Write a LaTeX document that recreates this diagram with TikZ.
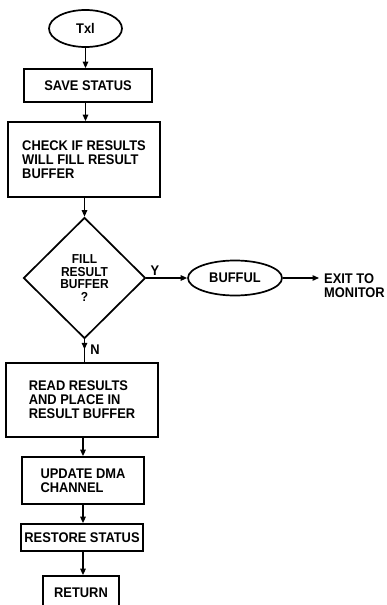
\documentclass[tikz,border=0pt]{standalone}
\usepackage{fontspec}
\setmainfont{Liberation Sans}[FakeStretch=0.92]
\usetikzlibrary{shapes.geometric,arrows.meta}
\begin{document}
\begin{tikzpicture}[x=1pt,y=-1pt,
  every node/.style={font=\fontsize{14}{14}\selectfont\bfseries, align=left, inner sep=0pt},
  box/.style={draw, rectangle, line width=1.7pt},
  oval/.style={draw, ellipse, line width=1.7pt},
  arr/.style={-{Triangle[length=6.5pt,width=5.5pt]}, line width=1.3pt},
  plain/.style={line width=1.3pt}]
\useasboundingbox (0,0) rectangle (387,605);
\node[oval, minimum width=73pt, minimum height=37pt] (txl) at (85.5,28.5) {Txl};
\node[box, minimum width=128pt, minimum height=33pt] (save) at (88,85.5) {SAVE STATUS};
\node[box, minimum width=152pt, minimum height=75pt] (check) at (84,159.5) {CHECK IF RESULTS\\WILL FILL RESULT\\BUFFER};
\node[diamond, draw, line width=1.7pt, minimum width=122pt, minimum height=121pt, align=center,
      font=\fontsize{13}{12.6}\selectfont\bfseries] (dia) at (84.5,278) {FILL\\RESULT\\BUFFER\\?};
\node[oval, minimum width=94pt, minimum height=35pt] (buf) at (235,278) {BUFFUL};
\node[anchor=west] (exit) at (324,285.5) {EXIT TO\\MONITOR};
\coordinate (exitin) at (319,278);
\node (ylab) at (155,271) {Y};
\node (nlab) at (95,350) {N};
\node[box, minimum width=152pt, minimum height=74pt] (read) at (82,400) {READ RESULTS\\AND PLACE IN\\RESULT BUFFER};
\node[box, minimum width=122pt, minimum height=47pt] (upd) at (83,480.5) {UPDATE DMA\\CHANNEL};
\node[box, minimum width=122pt, minimum height=27pt] (rest) at (82,537.5) {RESTORE STATUS};
\node[box, minimum width=76pt, minimum height=34pt] (ret) at (81,593) {RETURN};

\draw[arr] (txl.south) -- (txl.south |- save.north);
\draw[arr] (save.south -| txl.south) -- (txl.south |- check.north);
\draw[arr] (check.south -| dia.north) -- (dia.north);
\draw[arr] (dia.east) -- (buf.west);
\draw[arr] (buf.east) -- (exitin);
\draw[plain] (dia.south) -- (dia.south |- read.north);
\draw[arr] (dia.south) -- ++(0,10);
\draw[arr] (read.south -| upd.north) -- (upd.north);
\draw[arr] (upd.south) -- (upd.south |- rest.north);
\draw[arr] (rest.south -| upd.south) -- (upd.south |- ret.north);
\end{tikzpicture}
\end{document}
